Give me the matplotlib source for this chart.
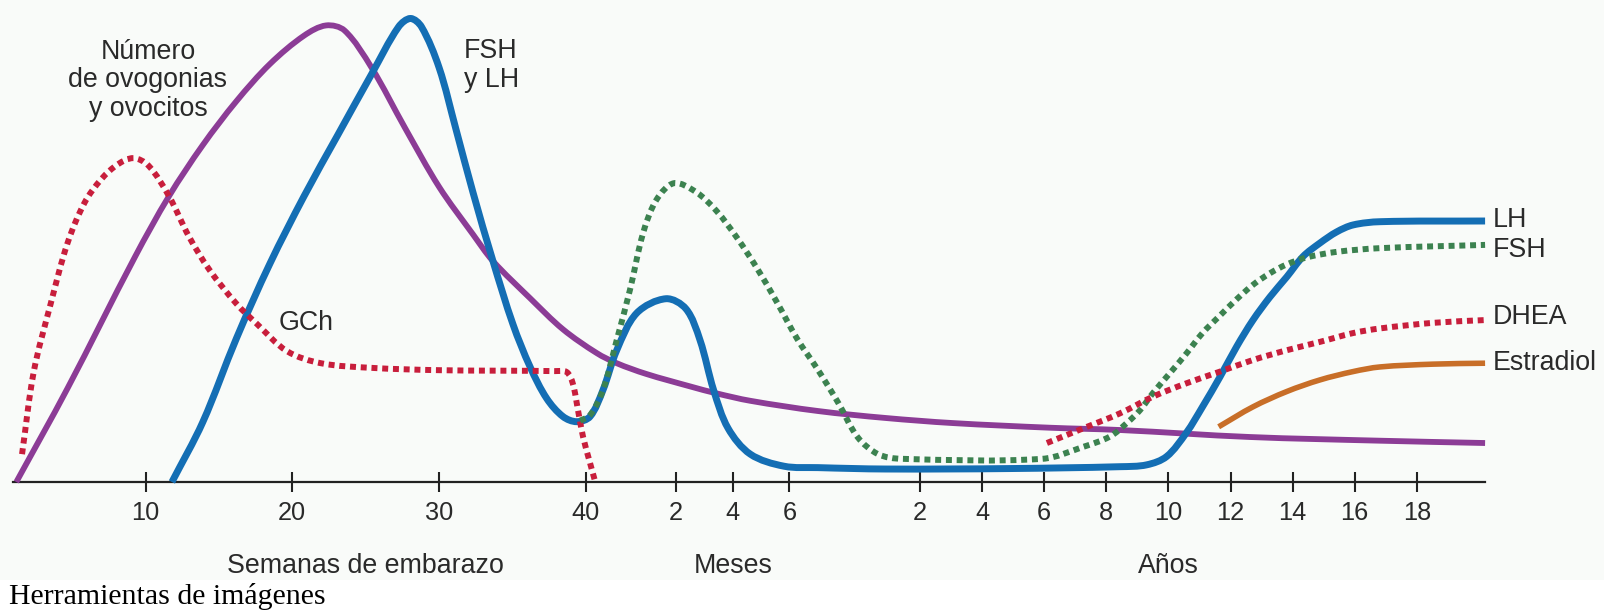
import matplotlib
matplotlib.use('Agg')
import matplotlib.pyplot as plt
from matplotlib.path import Path
from matplotlib.patches import PathPatch
import numpy as np

plt.rcParams['font.family'] = ['Liberation Sans', 'DejaVu Sans']

# eje compuesto: semanas / meses / años, todo en una misma escala de posición
def pos_semana(w):
    return np.asarray(w, dtype=float)

def pos_mes(m):
    return 42.28 + 1.93 * np.asarray(m, dtype=float)

def pos_anio(a):
    return 58.53 + 2.115 * np.asarray(a, dtype=float)

semanas = [10, 20, 30, 40]
meses = [2, 4, 6]
anios = [2, 4, 6, 8, 10, 12, 14, 16, 18]

# curvas (posición en el eje, nivel relativo)
ovo_x = [1.2, 4.69, 9.28, 11.6, 13.9, 16.2, 18.48, 20.8, 22.3, 23.56, 25.4, 27.68, 30.0,
         32.3, 33.67, 36.2, 38.44, 40.73, 42.1, 44.1, 47.1, 48.9, 51.2, 55.8, 60.4, 65.0,
         71.6, 76.4, 85.2, 94.1, 101.25]
ovo_y = [0, 20.2, 48.5, 61.6, 72.6, 82.1, 90.1, 96.2, 98.4, 97.3, 89.3, 76.3, 63.6,
         53.4, 47.6, 39.6, 32.9, 27.8, 25.6, 23.3, 20.6, 19.1, 17.5, 15.3, 13.8, 12.7,
         11.7, 11.2, 9.7, 8.9, 8.4]

lh_x = [11.8, 13.9, 16.2, 18.48, 20.8, 23.1, 25.4, 27.24, 28.05, 28.8, 30.0, 31.15, 32.3,
        33.67, 35.03, 36.2, 37.33, 38.44, 39.37, 40.28, 41.16, 42.1, 43.46, 45.45, 46.82,
        47.77, 48.7, 49.68, 51.2, 53.5, 55.8, 60.4, 68.9, 76.38, 78.2, 79.56, 80.9, 82.0,
        83.2, 84.33, 85.44, 86.6, 87.74, 88.85, 90.0, 91.14, 92.26, 94.1, 101.25]
lh_y = [0, 12.9, 31.0, 47.1, 61.6, 74.8, 87.9, 98.1, 99.9, 98.1, 89.3, 76.0, 62.5,
        47.6, 34.0, 24.8, 18.0, 14.1, 13.0, 14.1, 19.8, 28.4, 36.4, 39.5, 37.3,
        30.6, 19.8, 11.6, 6.0, 3.4, 3.1, 2.8, 2.9, 3.3, 3.7, 5.5, 10.6, 16.2,
        22.7, 29.2, 34.9, 39.9, 44.2, 48.6, 51.5, 53.9, 55.4, 56.1, 56.25]

gch_x = [1.59, 2.39, 3.54, 4.69, 5.85, 7.0, 8.13, 9.18, 10.2, 11.6, 12.96, 14.36, 16.2,
         17.58, 19.64, 21.95, 25.4, 30.0, 37.9, 38.69, 39.1, 39.46, 39.8, 40.28, 40.62]
gch_y = [6.0, 23.8, 38.4, 51.5, 60.2, 65.3, 68.5, 69.8, 68.2, 61.6, 52.9, 45.7, 38.4,
         34.1, 28.2, 25.6, 24.6, 24.1, 23.9, 23.7, 21.3, 15.5, 9.8, 4.1, 0.2]

fsh_x = [39.6, 40.28, 41.16, 42.1, 43.0, 43.9, 44.8, 46.0, 47.5, 48.9, 50.3, 51.65, 53.0,
         54.4, 55.8, 57.2, 58.5, 59.9, 61.5, 71.1, 73.9, 75.7, 76.84, 77.75, 78.63, 79.79,
         80.93, 82.0, 83.2, 84.33, 85.44, 86.6, 87.74, 89.1, 91.14, 94.1, 101.25]
fsh_y = [13.2, 14.4, 19.8, 30.6, 41.4, 53.7, 60.8, 64.4, 62.5, 58.4, 52.6, 46.1, 38.8,
         30.8, 24.2, 17.0, 9.7, 6.0, 5.0, 5.0, 7.6, 9.8, 12.7, 15.5, 19.2, 23.5,
         27.8, 32.1, 35.9, 39.4, 42.5, 45.0, 46.9, 48.4, 49.6, 50.4, 51.1]

dhea_x = [71.4, 73.9, 76.38, 78.63, 80.93, 83.2, 85.44, 87.74, 90.0, 92.26, 94.1, 97.7, 101.25]
dhea_y = [8.4, 11.6, 14.8, 18.4, 21.3, 23.8, 26.3, 28.4, 30.2, 32.1, 33.1, 34.3, 34.9]

estr_x = [83.1, 85.44, 87.74, 90.0, 92.26, 94.1, 97.7, 101.25]
estr_y = [11.9, 16.2, 19.5, 22.0, 23.8, 24.8, 25.4, 25.6]

morado = '#8c3c96'
azul = '#146eb4'
rojo = '#c81e3c'
verde = '#3c8250'
naranja = '#c86e28'


def suave(xs, ys):
    # trazo curvo (Bezier) que pasa por los puntos leídos
    p = np.column_stack([xs, ys]).astype(float)
    esc = np.array([14.68, 4.64])
    d = np.linalg.norm(np.diff(p * esc, axis=0), axis=1)
    t = np.concatenate([[0], np.cumsum(d)])
    n = len(p)
    m = np.zeros_like(p)
    for i in range(n):
        a, b = max(i - 1, 0), min(i + 1, n - 1)
        m[i] = (p[b] - p[a]) / (t[b] - t[a])
    verts = [p[0]]
    codes = [Path.MOVETO]
    for i in range(n - 1):
        h = (t[i + 1] - t[i]) / 3
        verts += [p[i] + m[i] * h, p[i + 1] - m[i + 1] * h, p[i + 1]]
        codes += [Path.CURVE4] * 3
    return Path(verts, codes)


fig = plt.figure(figsize=(16.04, 6.11), dpi=100, facecolor='white')
ax = fig.add_axes([0, 31 / 611, 1, 580 / 611])
ax.set_facecolor('#f9fbf9')
ax.set_xlim(0.0886, 109.35)
ax.set_ylim(-21.12, 103.88)

punteado = (0, (1.0, 0.8))
series = [
    (ovo_x, ovo_y, morado, 4.2, '-', 3),
    (lh_x, lh_y, azul, 5.0, '-', 4),
    (gch_x, gch_y, rojo, 4.3, punteado, 5),
    (fsh_x, fsh_y, verde, 4.3, punteado, 5),
    (dhea_x, dhea_y, rojo, 4.3, punteado, 5),
    (estr_x, estr_y, naranja, 4.0, '-', 4),
]
for xs, ys, c, lw, ls, z in series:
    pp = PathPatch(suave(xs, ys), fill=False, edgecolor=c, lw=lw, ls=ls,
                   capstyle='butt', joinstyle='round', zorder=z)
    ax.add_patch(pp)

# eje x
for s in ['top', 'right', 'left']:
    ax.spines[s].set_visible(False)
ax.spines['bottom'].set_position(('data', 0))
ax.spines['bottom'].set_bounds(1.0, 101.25)
ax.spines['bottom'].set_linewidth(1.6)
ax.spines['bottom'].set_color('#222222')
ax.set_yticks([])

tick_pos = list(pos_semana(semanas)) + list(pos_mes(meses)) + list(pos_anio(anios))
tick_lab = [str(v) for v in semanas] + [str(v) for v in meses] + [str(v) for v in anios]
ax.set_xticks(tick_pos, tick_lab)
ax.tick_params(axis='x', direction='inout', length=15, width=1.5, color='#222222',
               pad=6, labelsize=18.3, labelcolor='#2a2a2a')

txt = dict(fontsize=19.3, color='#2a2a2a')
ax.text(float(pos_semana(25)), -18.1, 'Semanas de embarazo', ha='center', va='center', **txt)
ax.text(float(pos_mes(4)), -18.1, 'Meses', ha='center', va='center', **txt)
ax.text(float(pos_anio(10)), -18.1, 'Años', ha='center', va='center', **txt)

ax.text(10.17, 86.6, 'Número\nde ovogonias\ny ovocitos', ha='center', va='center',
        linespacing=1.12, **txt)
ax.text(31.7, 89.8, 'FSH\ny LH', ha='left', va='center', linespacing=1.12, **txt)
ax.text(20.93, 34.35, 'GCh', ha='center', va='center', **txt)
ax.text(101.8, 56.5, 'LH', ha='left', va='center', **txt)
ax.text(101.8, 50.0, 'FSH', ha='left', va='center', **txt)
ax.text(101.8, 35.6, 'DHEA', ha='left', va='center', **txt)
ax.text(101.8, 25.6, 'Estradiol', ha='left', va='center', **txt)

fig.text(9 / 1604, 14 / 611, 'Herramientas de imágenes', ha='left', va='center',
         family='Liberation Serif', fontsize=21.5, color='black')

fig.savefig('out.png', dpi=100, facecolor='white')
